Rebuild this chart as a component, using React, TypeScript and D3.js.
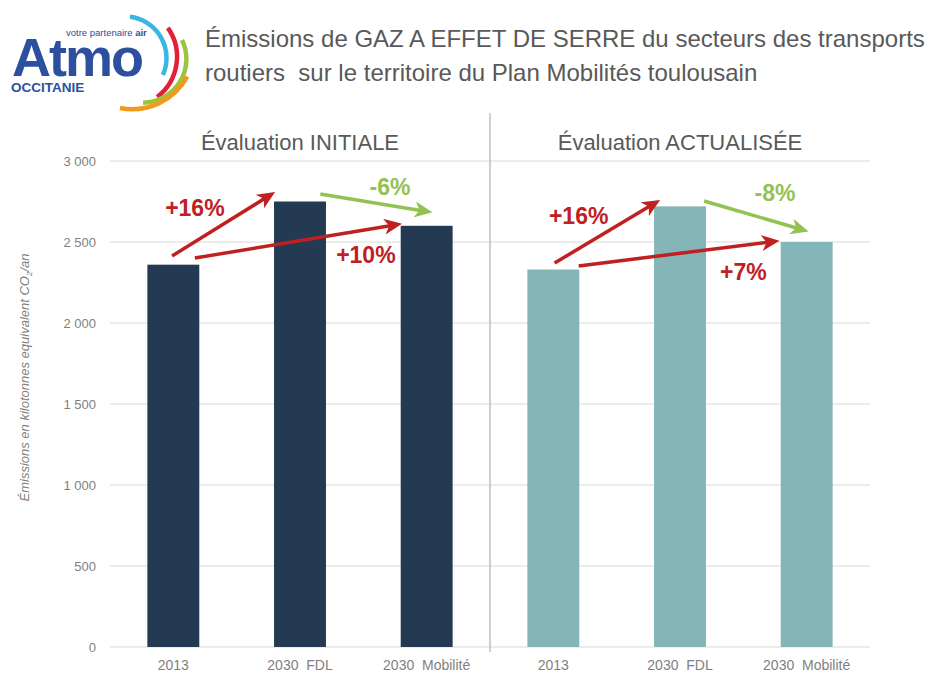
import * as d3 from 'd3';

// chart data
const categories = ['2013', '2030  FDL', '2030  Mobilité'];
const panelTitles = ['Évaluation INITIALE', 'Évaluation ACTUALISÉE'];
const initialValues = [2360, 2750, 2600];
const updatedValues = [2330, 2720, 2500];
const yTicks = [0, 500, 1000, 1500, 2000, 2500, 3000];

// change arrows, in slot units (slot i centre = i + 0.5) and kt CO2
const arrowFrom = [[0.49, 2414], [0.67, 2401], [1.66, 2796], [3.51, 2370], [3.7, 2352], [4.69, 2753]];
const arrowTo = [[1.29, 2802], [2.29, 2611], [2.53, 2685], [4.33, 2753], [5.27, 2506], [5.5, 2568]];
const arrowKind = ['up', 'up', 'down', 'up', 'up', 'down'];
const changeLabels = ['+16%', '+10%', '-6%', '+16%', '+7%', '-8%'];
const labelAt = [[0.67, 2710], [2.02, 2420], [2.21, 2840], [3.7, 2660], [5.0, 2315], [5.25, 2802]];

const W = 938;
const H = 673;
const NARROW = "'Liberation Sans Narrow', 'Arial Narrow', sans-serif";
const REG = "'Liberation Sans', Arial, sans-serif";
const RED = '#c0201f';
const GREEN = '#93c152';
const colorOf = (k: string) => (k === 'up' ? RED : GREEN);

const left = 110;
const right = 870;
const top = 161;
const bottom = 647;

function Logo() {
  const arc = d3.arc();
  // logo swirl: centre x, centre y, radius, start / end angle, colour
  const rings = [
    { cx: 125, cy: 58, r: 41.5, a0: 0.12, a1: 1.99, c: '#3ab6e4' },
    { cx: 126.5, cy: 56.8, r: 50.5, a0: 0.96, a1: 2.49, c: '#e3203a' },
    { cx: 142.6, cy: 59, r: 43.8, a0: 1.12, a1: 3.13, c: '#9cc43c' },
    { cx: 132.3, cy: 46.7, r: 62.5, a0: 2.07, a1: 3.34, c: '#f39a1e' },
  ];
  return (
    <g>
      {rings.map((d, i) => (
        <path key={i}
          d={arc({ innerRadius: d.r, outerRadius: d.r, startAngle: d.a0, endAngle: d.a1 } as any) ?? ''}
          transform={`translate(${d.cx},${d.cy})`}
          fill="none" stroke={d.c} strokeWidth={4.5} strokeLinecap="round" />
      ))}
      <text x={12} y={76} fontFamily={REG} fontWeight="bold" fontSize={54} fill="#2c4f9e" letterSpacing={-2}>Atmo</text>
      <text x={66} y={36} fontFamily={REG} fontSize={9.5} fill="#2c4f9e">votre partenaire <tspan fontWeight="bold">air</tspan></text>
      <text x={11} y={92} fontFamily={REG} fontWeight="bold" fontSize={13.5} fill="#2c4f9e">OCCITANIE</text>
    </g>
  );
}

function Chart() {
  const slots = d3.range(6).map(String);
  const xBand = d3.scaleBand().domain(slots).range([left, right]).paddingInner(0.59).paddingOuter(0.295);
  const xPos = d3.scaleLinear().domain([0, 6]).range([left, right]);
  const y = d3.scaleLinear().domain([0, 3000]).range([bottom, top]);

  const bars = [
    ...initialValues.map((v, i) => ({ slot: String(i), v, fill: '#243a52', label: categories[i] })),
    ...updatedValues.map((v, i) => ({ slot: String(i + 3), v, fill: '#84b6b7', label: categories[i] })),
  ];

  const headLen = 7;
  return (
    <svg width={W} height={H} style={{ position: 'absolute', left: 0, top: 0, background: '#fff' }}>
      <defs>
        {['up', 'down'].map((k) => (
          <marker key={k} id={`head-${k}`} viewBox="0 0 18 16" refX={9} refY={8} markerWidth={18} markerHeight={16}
            markerUnits="userSpaceOnUse" orient="auto">
            <path d="M0,0 L18,8 L0,16 L5,8 Z" fill={colorOf(k)} />
          </marker>
        ))}
      </defs>
      <Logo />
      <text x={205} y={47} fontFamily={REG} fontSize={24} fill="#595959">
        Émissions de GAZ A EFFET DE SERRE du secteurs des transports
      </text>
      <text x={205} y={81} fontFamily={REG} fontSize={24} fill="#595959" style={{ whiteSpace: 'pre' }}>
        routiers  sur le territoire du Plan Mobilités toulousain
      </text>

      {/* gridlines */}
      {yTicks.map((t) => (
        <g key={t}>
          <line x1={left} x2={right} y1={y(t)} y2={y(t)} stroke="#d9d9d9" strokeWidth={1} />
          <text x={96} y={y(t)} dy="0.35em" textAnchor="end" fontFamily={NARROW} fontSize={13} fill="#7f7f7f">
            {d3.format(',')(t).replace(',', ' ')}
          </text>
        </g>
      ))}

      {/* panel separator and headers */}
      <line x1={xPos(3)} x2={xPos(3)} y1={113} y2={bottom + 5} stroke="#bfbfbf" strokeWidth={1.5} />
      {panelTitles.map((t, i) => (
        <text key={t} x={xPos(1.5 + i * 3)} y={150} textAnchor="middle" fontFamily={NARROW} fontSize={22} fill="#595959">
          {t}
        </text>
      ))}

      {/* bars */}
      {bars.map((b) => (
        <g key={b.slot}>
          <rect x={xBand(b.slot)} y={y(b.v)} width={xBand.bandwidth()} height={y(0) - y(b.v)} fill={b.fill} />
          <text x={(xBand(b.slot) ?? 0) + xBand.bandwidth() / 2} y={670} textAnchor="middle" fontFamily={NARROW}
            fontSize={14} fill="#7f7f7f" style={{ whiteSpace: 'pre' }}>
            {b.label}
          </text>
        </g>
      ))}

      {/* change arrows */}
      {arrowFrom.map((f, i) => {
        const x1 = xPos(f[0]);
        const y1 = y(f[1]);
        const x2t = xPos(arrowTo[i][0]);
        const y2t = y(arrowTo[i][1]);
        const len = Math.hypot(x2t - x1, y2t - y1);
        const x2 = x2t - ((x2t - x1) / len) * headLen;
        const y2 = y2t - ((y2t - y1) / len) * headLen;
        return (
          <line key={i} x1={x1} y1={y1} x2={x2} y2={y2} stroke={colorOf(arrowKind[i])} strokeWidth={3.5}
            markerEnd={`url(#head-${arrowKind[i]})`} />
        );
      })}
      {changeLabels.map((t, i) => (
        <text key={i} x={xPos(labelAt[i][0])} y={y(labelAt[i][1])} dy="0.35em" textAnchor="middle"
          fontFamily={NARROW} fontWeight="bold" fontSize={23} fill={colorOf(arrowKind[i])}>
          {t}
        </text>
      ))}

      {/* y axis title */}
      <text transform={`translate(29,${(247 + 508) / 2}) rotate(-90)`} textAnchor="middle" fontFamily={NARROW}
        fontStyle="italic" fontSize={13} fill="#7f7f7f">
        Émissions en kilotonnes equivalent CO<tspan fontSize={8} dy={3}>2</tspan><tspan dy={-3}>/an</tspan>
      </text>
    </svg>
  );
}

export default function App() {
  return <Chart />;
}
